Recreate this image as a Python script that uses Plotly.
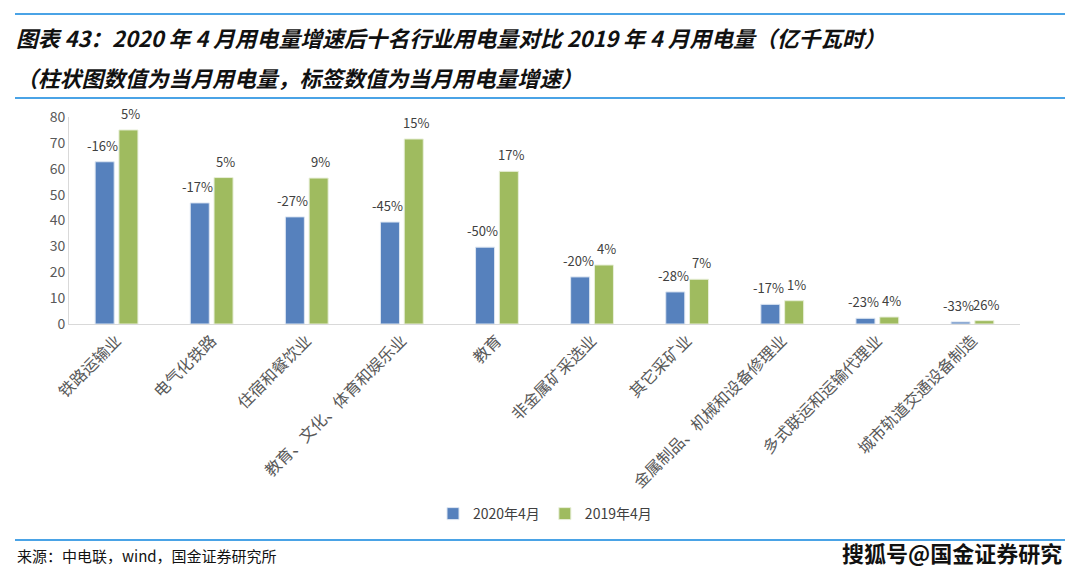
import plotly.graph_objects as go

# 行业（2020年4月用电量增速后十名）
categories = [
    "铁路运输业", "电气化铁路", "住宿和餐饮业", "教育、文化、体育和娱乐业", "教育",
    "非金属矿采选业", "其它采矿业", "金属制品、机械和设备修理业", "多式联运和运输代理业",
    "城市轨道交通设备制造",
]
# 当月用电量（亿千瓦时）
usage_2020 = [62.7, 46.8, 41.4, 39.4, 29.7, 18.2, 12.4, 7.6, 2.2, 0.8]
usage_2019 = [75.0, 56.6, 56.4, 71.5, 59.0, 22.8, 17.3, 9.0, 2.7, 1.3]
# 当月用电量增速
growth_2020 = ["-16%", "-17%", "-27%", "-45%", "-50%", "-20%", "-28%", "-17%", "-23%", "-33%"]
growth_2019 = ["5%", "5%", "9%", "15%", "17%", "4%", "7%", "1%", "4%", "26%"]

W, H = 1080, 576
L, R, T, B = 69, 60, 117, 252
FONT = "Noto Sans CJK SC, Microsoft YaHei, sans-serif"
BLUE = "#5681bd"
GREEN = "#9fbb5f"
LINE_BLUE = "#4aa3e6"


def px_x(x):
    return (x - L) / (W - L - R)


def px_y(y):
    return (H - B - y) / (H - T - B)


fig = go.Figure()
fig.add_trace(go.Bar(name="2020年4月", x=categories, y=usage_2020,
                     marker=dict(color=BLUE, line=dict(color="#dde6f2", width=1))))
fig.add_trace(go.Bar(name="2019年4月", x=categories, y=usage_2019,
                     marker=dict(color=GREEN, line=dict(color="#e8efd9", width=1))))

annotations = []
for cat, v, t in zip(categories, usage_2020, growth_2020):
    annotations.append(dict(x=cat, y=v, text=t, xshift=-14, yshift=5, showarrow=False,
                            yanchor="bottom", font=dict(size=13, color="#404040", family=FONT)))
for cat, v, t in zip(categories, usage_2019, growth_2019):
    annotations.append(dict(x=cat, y=v, text=t, xshift=14, yshift=5, showarrow=False,
                            yanchor="bottom", font=dict(size=13, color="#404040", family=FONT)))

# titles, source, watermark
annotations += [
    dict(xref="paper", yref="paper", x=px_x(14), y=px_y(37), xanchor="left", yanchor="middle",
         showarrow=False,
         text="<b><i>图表 43：2020 年 4 月用电量增速后十名行业用电量对比 2019 年 4 月用电量（亿千瓦时）</i></b>",
         font=dict(size=21.8, color="#111111", family=FONT)),
    dict(xref="paper", yref="paper", x=px_x(14), y=px_y(77), xanchor="left", yanchor="middle",
         showarrow=False,
         text="<b><i>（柱状图数值为当月用电量，标签数值为当月用电量增速）</i></b>",
         font=dict(size=21.8, color="#111111", family=FONT)),
    dict(xref="paper", yref="paper", x=px_x(15), y=px_y(555), xanchor="left", yanchor="middle",
         showarrow=False, text="来源：中电联，wind，国金证券研究所",
         font=dict(size=15, color="#111111", family=FONT)),
    dict(xref="paper", yref="paper", x=px_x(1064), y=px_y(552), xanchor="right", yanchor="middle",
         showarrow=False, text="<b>搜狐号@国金证券研究</b>",
         font=dict(size=22, color="#111111", family=FONT)),
]

shapes = []
for yy in (14, 98, 540):
    shapes.append(dict(type="line", xref="paper", yref="paper", x0=px_x(15), x1=px_x(1065),
                       y0=px_y(yy), y1=px_y(yy), line=dict(color=LINE_BLUE, width=2)))

fig.update_layout(
    width=W, height=H,
    margin=dict(l=L, r=R, t=T, b=B, autoexpand=False),
    paper_bgcolor="white", plot_bgcolor="white",
    barmode="group", bargap=0.5, bargroupgap=0.2,
    font=dict(family=FONT, color="#595959"),
    showlegend=True,
    legend=dict(orientation="h", x=px_x(545), y=px_y(514), xanchor="center", yanchor="middle",
                font=dict(size=14, color="#404040", family=FONT), itemwidth=30,
                traceorder="normal"),
    annotations=annotations,
    shapes=shapes,
)
fig.update_xaxes(tickangle=-45, tickfont=dict(size=16, color="#595959", family=FONT),
                 showline=True, linecolor="#d9d9d9", linewidth=1, ticks="", showgrid=False,
                 automargin=False)
fig.update_yaxes(range=[0, 80], dtick=10, tickfont=dict(size=14, color="#595959", family=FONT),
                 showline=True, linecolor="#d9d9d9", linewidth=1, showgrid=False, zeroline=False,
                 ticks="", automargin=False)

# drop the default page margin so the figure sits at the window's top-left corner
fig.write_html("out.html", config={"displayModeBar": False},
               post_script="document.body.style.margin='0';")
